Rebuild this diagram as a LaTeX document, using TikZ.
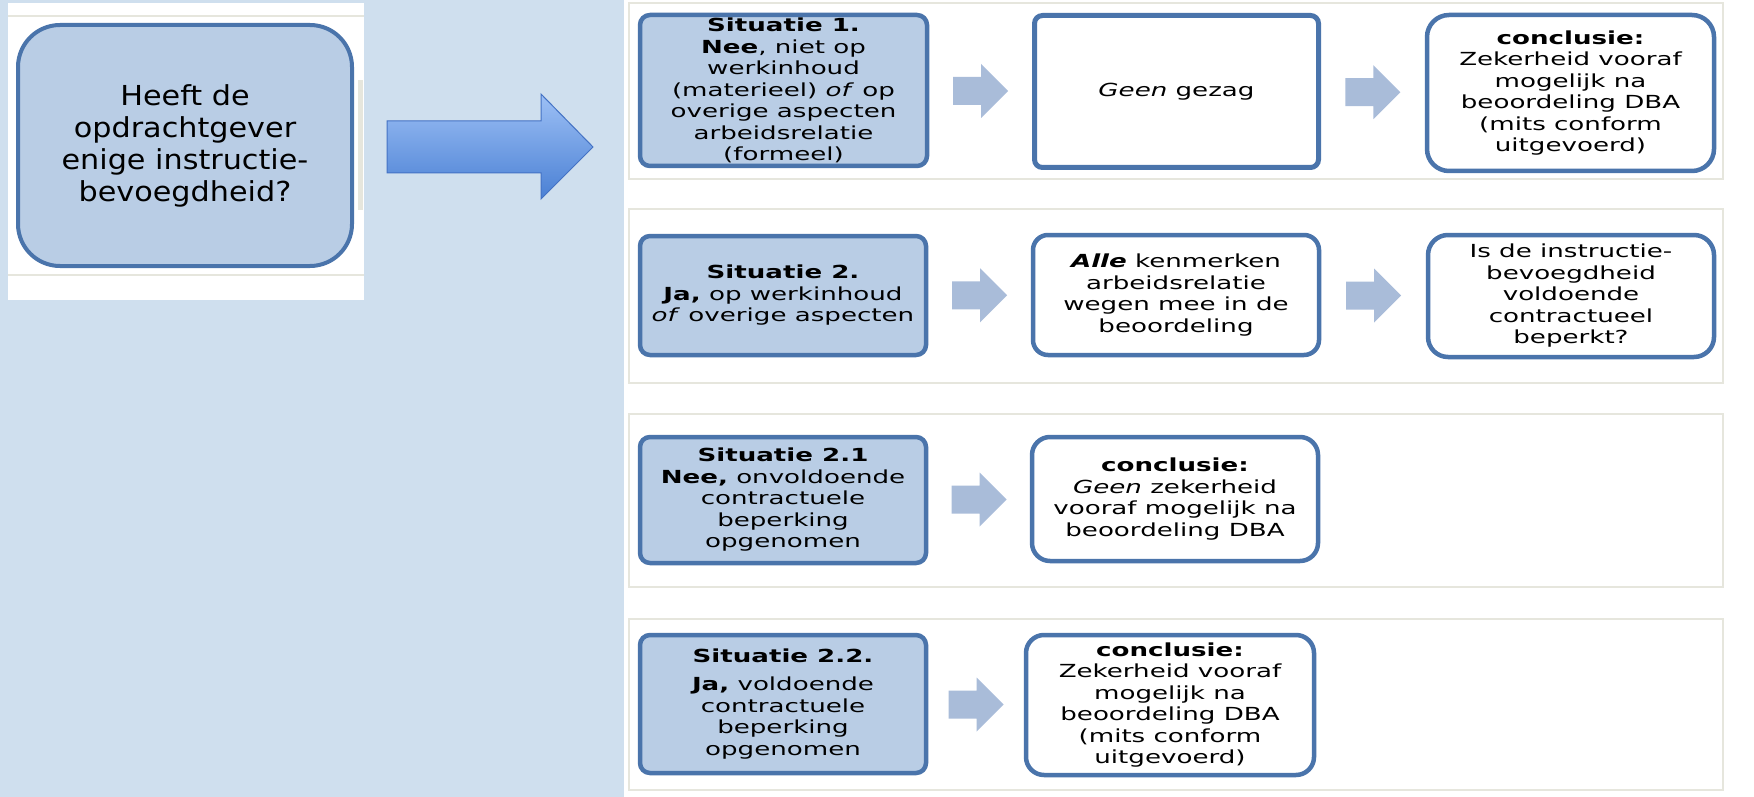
\documentclass[tikz,border=0pt]{standalone}
\usepackage{fontspec}
\setmainfont{DejaVu Sans}
\newfontfamily\vraagfont{DejaVu Sans}[FakeStretch=1.1]
\newfontfamily\vakfont{DejaVu Sans}[FakeStretch=1.45]
\usepackage{xcolor}
\usepackage{tikz}
\usetikzlibrary{
  calc,
  positioning}

\definecolor{achtergrond}{HTML}{CFDFEE}
\definecolor{vulblauw}{HTML}{B9CDE5}
\definecolor{kader}{HTML}{4A74AB}
\definecolor{pijlgrijs}{HTML}{A9BCD9}
\definecolor{pijllicht}{HTML}{9DC0F5}
\definecolor{pijldonker}{HTML}{4A80D4}
\definecolor{pijlrand}{HTML}{4472C4}
\definecolor{paneelrand}{HTML}{E6E6DD}

\tikzset{
  blokpijl/.pic={
    \fill[pijlgrijs] (-27.5,-14) -- (0.5,-14) -- (0.5,-27) -- (27.5,0)
      -- (0.5,27) -- (0.5,14) -- (-27.5,14) -- cycle;
  }
}

\begin{document}
\begin{tikzpicture}[x=1pt,y=-1pt,
    situatie/.style={rectangle,rounded corners=10pt,draw=kader,line width=4.5pt,fill=vulblauw,
      text centered,align=center,inner sep=0pt,font=\vakfont\fontsize{18}{21.5}\selectfont},
    uitkomst/.style={situatie,fill=white}]
        % Achtergrond
        \useasboundingbox (0,0) rectangle (1754,797);
        \fill[white] (0,0) rectangle (1754,797);
        \fill[achtergrond] (0,0) rectangle (624,797);
        \fill[white] (8,3) rectangle (364,300);
        \draw[paneelrand,line width=1.5pt] (8,16) -- (364,16) (8,275) -- (364,275);
        \fill[paneelrand] (358,80) rectangle (363,210);
        \foreach \boven/\onder in {3/179,209/383,414/587,619/790}
          \draw[paneelrand,line width=1.5pt] (629,\boven) rectangle (1723,\onder);
        % Nodes
        \node(vraag) at (185,145.5)[rectangle,rounded corners=42pt,draw=kader,line width=4pt,fill=vulblauw,
          minimum width=334pt,minimum height=241pt,text centered,align=center,
          font=\vraagfont\fontsize{27.5}{32}\selectfont] {Heeft de\\opdrachtgever\\enige instructie-\\bevoegdheid?};
        \node(sit1) at (783.5,90.5)[situatie,minimum width=287pt,minimum height=151pt]
          {\textbf{Situatie 1.}\\\textbf{Nee}, niet op\\werkinhoud\\(materieel) \textit{of} op\\overige aspecten\\arbeidsrelatie\\(formeel)};
        \node(geen) at (1176.5,91.5)[uitkomst,rounded corners=8pt,line width=5pt,minimum width=284pt,minimum height=152pt]
          {\textit{Geen} gezag};
        \node(concl1) at (1570.5,93)[uitkomst,rounded corners=22pt,minimum width=287pt,minimum height=156pt]
          {\textbf{conclusie:}\\Zekerheid vooraf\\mogelijk na\\beoordeling DBA\\(mits conform\\uitgevoerd)};
        \node(sit2) at (783,295.5)[situatie,minimum width=286pt,minimum height=119pt]
          {\textbf{Situatie 2.}\\\textbf{Ja,} op werkinhoud\\\textit{of} overige aspecten};
        \node(alle) at (1176,295)[uitkomst,rounded corners=15pt,minimum width=286pt,minimum height=120pt]
          {\textbf{\textit{Alle}} kenmerken\\arbeidsrelatie\\wegen mee in de\\beoordeling};
        \node(isde) at (1571,296)[uitkomst,rounded corners=20pt,minimum width=286pt,minimum height=122pt]
          {Is de instructie-\\bevoegdheid\\voldoende\\contractueel\\beperkt?};
        \node(sit21) at (783,500)[situatie,minimum width=286pt,minimum height=126pt]
          {\textbf{Situatie 2.1}\\\textbf{Nee,} onvoldoende\\contractuele\\beperking\\opgenomen};
        \node(concl21) at (1175,499)[uitkomst,rounded corners=18pt,minimum width=286pt,minimum height=124pt]
          {\textbf{conclusie:}\\\textit{Geen} zekerheid\\vooraf mogelijk na\\beoordeling DBA};
        \node(sit22) at (783,704)[situatie,minimum width=286pt,minimum height=138pt]
          {\textbf{Situatie 2.2.}\\[7pt]\textbf{Ja,} voldoende\\contractuele\\beperking\\opgenomen};
        \node(concl22) at (1170,705)[uitkomst,rounded corners=18pt,minimum width=288pt,minimum height=140pt]
          {\textbf{conclusie:}\\Zekerheid vooraf\\mogelijk na\\beoordeling DBA\\(mits conform\\uitgevoerd)};
        % Pijlen
        \shade[top color=pijllicht,bottom color=pijldonker,draw=pijlrand,line width=1pt]
          (387,121) -- (541,121) -- (541,94) -- (593,147) -- (541,199) -- (541,173) -- (387,173) -- cycle;
        \pic at ($(sit1.east)!0.5!(geen.west)$) {blokpijl};
        \pic at ($(geen.east)!0.5!(concl1.west)$) {blokpijl};
        \pic at ($(sit2.east)!0.5!(alle.west)$) {blokpijl};
        \pic at ($(alle.east)!0.5!(isde.west)$) {blokpijl};
        \pic at ($(sit21.east)!0.5!(concl21.west)$) {blokpijl};
        \pic at ($(sit22.east)!0.5!(concl22.west)$) {blokpijl};
\end{tikzpicture}
\end{document}
